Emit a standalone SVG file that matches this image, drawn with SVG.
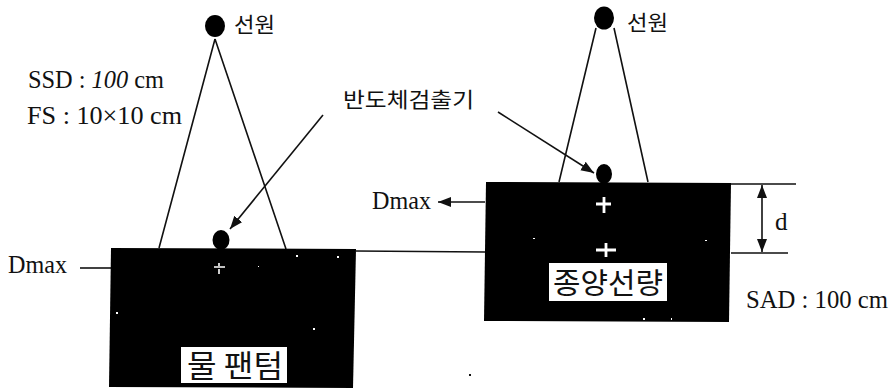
<svg xmlns="http://www.w3.org/2000/svg" width="892" height="389" viewBox="0 0 892 389">
<style>
.t{font-family:"Liberation Serif","Noto Sans CJK KR",serif;fill:#111;font-size:25px}
.k{font-family:"Noto Sans CJK KR",sans-serif;fill:#111}
.l{fill:none;stroke:#111;stroke-width:1.600}
.w{stroke:#fff;stroke-width:2.800;fill:none}
</style>
<defs>
<marker id="a" markerUnits="userSpaceOnUse" markerWidth="15" markerHeight="12" refX="13" refY="5" orient="auto-start-reverse"><path d="M0 0L13 5L0 10Z" fill="#111"/></marker>
</defs>
<rect width="892" height="389" fill="#fff"/>
<g id="connectors">
<path class="l" d="M215 39L159 248M215 39L286 249"/>
<path class="l" d="M323 115L230 229" marker-end="url(#a)"/>
<path class="l" d="M80 268L111 268"/>
<path class="l" d="M356 251L485 252"/>
<path class="l" d="M596 28L559 182M614 28L648 182"/>
<path class="l" d="M498 112L594 173" marker-end="url(#a)"/>
<path class="l" d="M485 202L438 202" marker-end="url(#a)"/>
<path class="l" d="M731 184L796 184M731 253L788 253"/>
<path class="l" d="M762 185L762 252" marker-start="url(#a)" marker-end="url(#a)"/>
</g>
<g id="phantom-water">
<path d="M111 248L356 249L353 388L109 387Z" fill="#000"/>
<rect x="181" y="347" width="106" height="36" fill="#fff"/>
<text class="k" x="235" y="377" font-size="31" text-anchor="middle" textLength="96" lengthAdjust="spacingAndGlyphs">물 팬텀</text>
<path class="w" style="stroke-width:1.600" d="M214 267L225 267M219 263L219 266M219 269L219 274"/>
<path fill="#fff" d="M296 255h2v2h-2zM337 256h2v2h-2zM258 266h1v1h-1zM116 312h2v2h-2zM313 328h2v2h-2z"/>
</g>
<g id="phantom-tumor">
<path d="M486 182L731 183L729 322L484 321Z" fill="#000"/>
<rect x="549" y="263" width="118" height="38" fill="#fff"/>
<text class="k" x="608" y="294" font-size="29" text-anchor="middle" textLength="110" lengthAdjust="spacingAndGlyphs">종양선량</text>
<path class="w" d="M596 204L611 204M604 197L604 213"/>
<path class="w" d="M596 250L616 250M606 243L606 257"/>
<path fill="#fff" d="M533 238h2v1h-2zM705 240h2v1h-2zM643 318h2v2h-2zM671 318h1v2h-1z"/>
</g>
<g id="detector-left"><ellipse cx="221" cy="240" rx="8.500" ry="10" fill="#000"/></g>
<g id="detector-right"><ellipse cx="604" cy="174" rx="8" ry="10" fill="#000"/></g>
<g id="source-left">
<ellipse cx="215" cy="26" rx="10" ry="11" fill="#000"/>
<text class="k" x="234" y="32" font-size="21" textLength="41" lengthAdjust="spacingAndGlyphs">선원</text>
</g>
<g id="source-right">
<ellipse cx="604" cy="18" rx="10" ry="11.500" fill="#000"/>
<text class="k" x="627" y="30" font-size="21" textLength="41" lengthAdjust="spacingAndGlyphs">선원</text>
</g>
<g id="labels">
<text class="t" x="28" y="88" textLength="136" lengthAdjust="spacingAndGlyphs">SSD : <tspan font-style="italic">100</tspan> cm</text>
<text class="t" x="27" y="124" textLength="155" lengthAdjust="spacingAndGlyphs">FS : 10×10 cm</text>
<text class="k" x="343" y="107" font-size="21" textLength="131" lengthAdjust="spacingAndGlyphs">반도체검출기</text>
<text class="t" x="372" y="209" textLength="59" lengthAdjust="spacingAndGlyphs">Dmax</text>
<text class="t" x="8" y="273" textLength="59" lengthAdjust="spacingAndGlyphs">Dmax</text>
<text class="t" x="775" y="230">d</text>
<text class="t" x="746" y="308" textLength="142" lengthAdjust="spacingAndGlyphs">SAD : 100 cm</text>
</g>
<path id="speck" fill="#111" d="M469 374h2v2h-2z"/>
</svg>
